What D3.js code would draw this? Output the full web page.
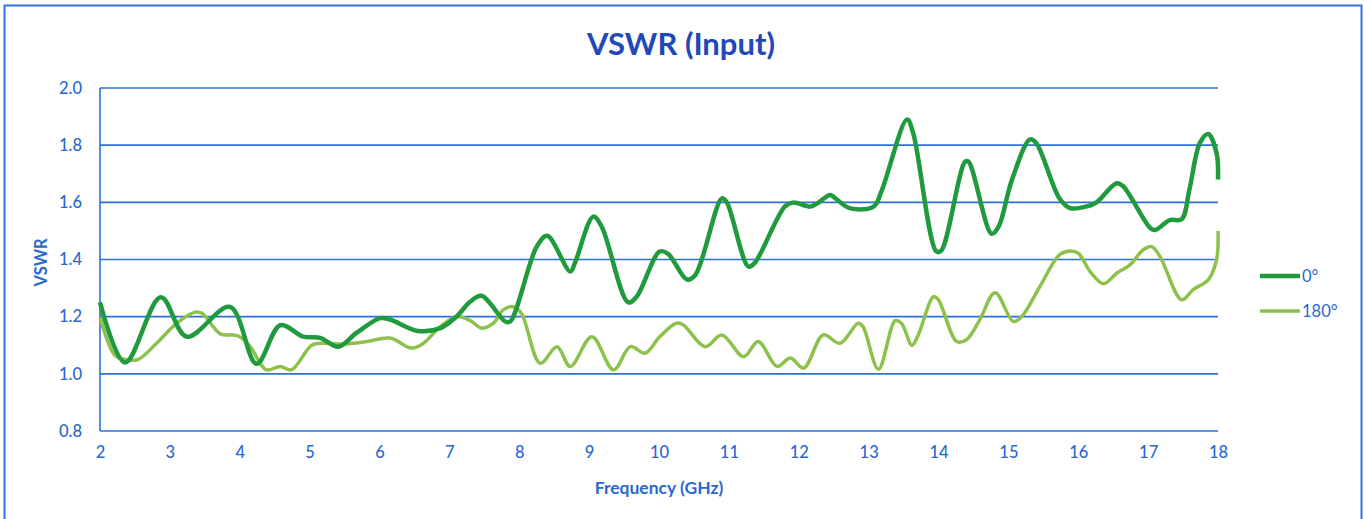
<!DOCTYPE html>
<meta charset="utf-8">
<script src="https://d3js.org/d3.v7.min.js"></script>
<style>
  body { margin: 0; background: #fff; }
</style>
<body>
<div id="chart"></div>
<script>
// frequency (GHz) and VSWR
var freq0 = [2, 2.36, 2.87, 3.24, 3.86, 4.24, 4.58, 4.91, 5.15, 5.41, 5.67, 6.01, 6.15, 6.55, 6.87, 7.1, 7.3, 7.46, 7.8, 7.87,
  8.25, 8.4, 8.73, 8.8, 9.06, 9.18, 9.56, 9.68, 10.01, 10.13, 10.4, 10.52, 10.9, 10.97, 11.28, 11.37, 11.8, 11.92,
  12.16, 12.25, 12.45, 12.52, 12.73, 13.07, 13.19, 13.55, 13.64, 13.97, 14.04, 14.38, 14.43, 14.76, 14.86, 15.05,
  15.31, 15.4, 15.73, 15.88, 16.14, 16.26, 16.55, 16.64, 17.03, 17.1, 17.31, 17.48, 17.59, 17.74, 17.86, 17.98, 18];
var vswr0 = [1.25, 1.04, 1.268, 1.13, 1.234, 1.035, 1.17, 1.13, 1.126, 1.095, 1.143, 1.195, 1.19, 1.15, 1.16, 1.2, 1.253, 1.273, 1.183, 1.183,
  1.445, 1.483, 1.358, 1.39, 1.55, 1.515, 1.25, 1.27, 1.428, 1.42, 1.33, 1.346, 1.614, 1.6, 1.375, 1.388, 1.585, 1.599,
  1.585, 1.594, 1.626, 1.615, 1.58, 1.585, 1.643, 1.89, 1.84, 1.428, 1.431, 1.742, 1.742, 1.49, 1.515, 1.678,
  1.82, 1.807, 1.614, 1.58, 1.587, 1.6, 1.667, 1.657, 1.51, 1.503, 1.538, 1.541, 1.643, 1.807, 1.839, 1.772, 1.68];

var freq180 = [2, 2.21, 2.38, 2.55, 2.81, 3.1, 3.36, 3.46, 3.72, 3.91, 4.0, 4.15, 4.38, 4.58, 4.74, 5.03, 5.2, 5.48, 5.82, 6.15,
  6.46, 6.63, 6.87, 7.1, 7.3, 7.46, 7.63, 7.77, 7.91, 8.03, 8.3, 8.54, 8.73, 9.04, 9.35, 9.59, 9.8, 10.01, 10.25, 10.35,
  10.66, 10.9, 11.21, 11.42, 11.69, 11.88, 12.07, 12.35, 12.59, 12.85, 12.92, 13.14, 13.38, 13.47, 13.62, 13.71, 13.93, 14.0,
  14.26, 14.4, 14.59, 14.81, 15.07, 15.19, 15.45, 15.73, 15.88, 16.0, 16.17, 16.36, 16.55, 16.74, 16.93, 17.05, 17.17,
  17.48, 17.64, 17.86, 17.98, 18];
var vswr180 = [1.198, 1.066, 1.049, 1.051, 1.107, 1.177, 1.216, 1.212, 1.14, 1.136, 1.13, 1.095, 1.014, 1.026, 1.014, 1.1, 1.107, 1.104, 1.113, 1.125,
  1.09, 1.107, 1.165, 1.2, 1.186, 1.16, 1.177, 1.224, 1.235, 1.212, 1.037, 1.095, 1.026, 1.13, 1.014, 1.095, 1.072, 1.13, 1.177, 1.171,
  1.095, 1.136, 1.06, 1.113, 1.026, 1.055, 1.02, 1.136, 1.107, 1.177, 1.165, 1.016, 1.186, 1.177, 1.1, 1.136, 1.27, 1.259,
  1.113, 1.119, 1.189, 1.284, 1.183, 1.2, 1.305, 1.416, 1.43, 1.422, 1.358, 1.315, 1.352, 1.381, 1.434, 1.445, 1.41,
  1.259, 1.294, 1.329, 1.4, 1.5];

var seriesNames = ["0°", "180°"];
var xTicks = d3.range(2, 19, 1);
var yTicks = [0.8, 1.0, 1.2, 1.4, 1.6, 1.8, 2.0];

var W = 1364, H = 519;
var margin = {top: 88, right: 146, bottom: 88, left: 100},
    width = W - margin.left - margin.right,
    height = H - margin.top - margin.bottom;

var blue = "#2d6fd6", textBlue = "#2a68d0", titleBlue = "#1f48b8";
var colors = ["#1f9a3c", "#8cc24c"];
var font = "Lato, 'Open Sans', sans-serif";

var root = d3.select("#chart").append("svg")
    .attr("width", W).attr("height", H);

// outer frame
root.append("rect")
    .attr("x", 4.5).attr("y", 5.5)
    .attr("width", 1357).attr("height", 530)
    .attr("fill", "none").attr("stroke", "#2f74d8").attr("stroke-width", 2);

root.append("text")
    .attr("x", 681).attr("y", 55)
    .attr("text-anchor", "middle")
    .style("font-family", font)
    .style("font-weight", "bold")
    .style("font-size", "31px")
    .style("fill", titleBlue)
    .text("VSWR (Input)");

var svg = root.append("g")
    .attr("transform", "translate(" + margin.left + "," + margin.top + ")");

var x = d3.scaleLinear().domain([2, 18]).range([0, width]);
var y = d3.scaleLinear().domain([0.8, 2.0]).range([height, 0]);

// gridlines
svg.append("g")
  .selectAll("line")
  .data(yTicks)
  .join("line")
    .attr("x1", 0).attr("x2", width)
    .attr("y1", function(d) { return y(d); })
    .attr("y2", function(d) { return y(d); })
    .attr("stroke", blue).attr("stroke-width", 1.6);

svg.append("line")
    .attr("x1", 0).attr("x2", 0)
    .attr("y1", 0).attr("y2", height)
    .attr("stroke", blue).attr("stroke-width", 1.6);

var yAxis = svg.append("g")
    .call(d3.axisLeft(y).tickValues(yTicks).tickFormat(d3.format(".1f")).tickSize(0).tickPadding(18));
var xAxis = svg.append("g")
    .attr("transform", "translate(0," + height + ")")
    .call(d3.axisBottom(x).tickValues(xTicks).tickFormat(d3.format("d")).tickSize(0).tickPadding(15));

[xAxis, yAxis].forEach(function(a) {
  a.select(".domain").remove();
  a.selectAll("text")
    .style("font-family", font)
    .style("font-size", "16.5px")
    .style("font-weight", "500")
    .style("fill", textBlue);
});

svg.append("text")
    .attr("x", width / 2).attr("y", height + 63)
    .attr("text-anchor", "middle")
    .style("font-family", font)
    .style("font-weight", "bold")
    .style("font-size", "17.5px")
    .style("fill", textBlue)
    .text("Frequency (GHz)");

svg.append("text")
    .attr("transform", "translate(-53," + y(1.39) + ") rotate(-90)")
    .attr("text-anchor", "middle")
    .style("font-family", font)
    .style("font-weight", "bold")
    .style("font-size", "16.5px")
    .style("fill", textBlue)
    .text("VSWR");

var line = d3.line()
    .x(function(d) { return x(d[0]); })
    .y(function(d) { return y(d[1]); })
    .curve(d3.curveCatmullRom.alpha(0.5));

var series = [d3.zip(freq0, vswr0), d3.zip(freq180, vswr180)];
var widths = [4.5, 3.5];

[1, 0].forEach(function(i) {
  svg.append("path")
    .datum(series[i])
    .attr("fill", "none")
    .attr("stroke", colors[i])
    .attr("stroke-width", widths[i])
    .attr("stroke-linejoin", "round")
    .attr("d", line);
});

// legend
var legend = root.append("g");
seriesNames.forEach(function(name, i) {
  var ly = 276 + i * 35;
  legend.append("line")
    .attr("x1", 1260).attr("x2", 1300)
    .attr("y1", ly).attr("y2", ly)
    .attr("stroke", colors[i]).attr("stroke-width", widths[i]);
  legend.append("text")
    .attr("x", 1302).attr("y", ly + 6)
    .style("font-family", font)
    .style("font-size", "16.5px")
    .style("fill", textBlue)
    .text(name);
});
</script>
</body>
